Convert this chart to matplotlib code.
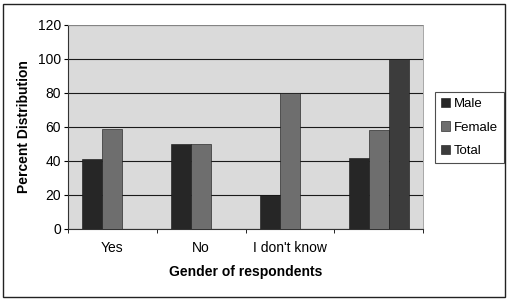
import matplotlib.pyplot as plt
import numpy as np

categories = ['Yes', 'No', "I don't know", '']
series = ['Male', 'Female', 'Total']
male = [41, 50, 20, 42]
female = [59, 50, 80, 58]
total = [0, 0, 0, 100]
colors = ['#262626', '#6e6e6e', '#3c3c3c']

plt.rcParams['font.family'] = ['Liberation Sans', 'DejaVu Sans']

fig = plt.figure(figsize=(5.08, 3.01), dpi=100)
ax = fig.add_axes([68 / 508, 1 - 229 / 301, (423 - 68) / 508, (229 - 25) / 301])
ax.set_facecolor('#dadada')

x = np.arange(len(categories))
w = 0.225
for i, (name, vals) in enumerate(zip(series, [male, female, total])):
    ax.bar(x + (i - 1) * w, vals, width=w, color=colors[i], label=name,
           edgecolor='#111111', linewidth=0.4, zorder=3)

ax.set_xlim(-0.5, len(categories) - 0.5)
ax.set_ylim(0, 120)
ax.set_yticks(range(0, 121, 20))
ax.yaxis.grid(True, color='#1a1a1a', linewidth=0.8, zorder=1)
ax.set_xticks(x)
ax.set_xticklabels(categories, fontsize=10)
ax.set_xticks(np.arange(-0.5, len(categories), 1), minor=True)
ax.tick_params(axis='x', which='major', length=0, pad=9)
ax.tick_params(axis='x', which='minor', length=3, direction='out')
ax.tick_params(axis='y', length=3, labelsize=10, pad=2)
for side in ['top', 'right']:
    ax.spines[side].set_color('#999999')
    ax.spines[side].set_linewidth(0.6)
for side in ['left', 'bottom']:
    ax.spines[side].set_color('#333333')

ax.set_xlabel('Gender of respondents', fontsize=10, fontweight='bold', labelpad=7)
ax.set_ylabel('Percent Distribution', fontsize=10, fontweight='bold', labelpad=5)

leg = ax.legend(loc='upper left', bbox_to_anchor=(435 / 508, 1 - 92 / 301),
                bbox_transform=fig.transFigure, fontsize=9.5, frameon=True,
                fancybox=False, edgecolor='#222222', handlelength=0.7,
                handleheight=0.7, handletextpad=0.3, borderpad=0.45,
                borderaxespad=0, labelspacing=0.85)
leg.get_frame().set_linewidth(0.8)

fig.patches.append(plt.Rectangle((3 / 508, 4 / 301), 502 / 508, 293 / 301,
                                 transform=fig.transFigure, fill=False,
                                 edgecolor='#222222', linewidth=1.0))

fig.savefig('out.png', dpi=100)
